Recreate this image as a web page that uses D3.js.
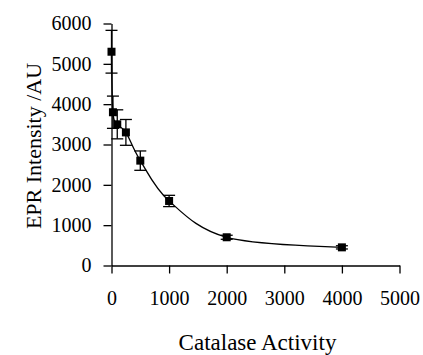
<!DOCTYPE html>
<html>
<head>
<meta charset="utf-8">
<script src="https://cdn.jsdelivr.net/npm/d3@7"></script>
<style>
  body { margin: 0; background: #fff; }
  svg { display: block; }
  .axis text { font-family: "Liberation Serif", serif; font-size: 20px; fill: #000; }
  .axis path, .axis line { stroke: #000; stroke-width: 1.3px; }
</style>
</head>
<body>
<div id="chart"></div>
<script>
// catalase activity vs EPR intensity
const activity = [0, 25, 100, 250, 500, 1000, 2000, 4000];
const intensity = [5300, 3800, 3500, 3300, 2600, 1600, 700, 450];
const errors = [530, 400, 360, 320, 240, 140, 50, 40];
const xTicks = [0, 1000, 2000, 3000, 4000, 5000];
const yTicks = [0, 1000, 2000, 3000, 4000, 5000, 6000];

const width = 423;
const height = 355;
const margin = { left: 111.5, top: 23.5, right: 23.5, bottom: 89.5 };

const svg = d3.select("#chart")
    .append("svg")
    .attr("width", width)
    .attr("height", height);

const x = d3.scaleLinear()
    .domain([0, 5000])
    .range([margin.left, width - margin.right]);

const y = d3.scaleLinear()
    .domain([0, 6000])
    .range([height - margin.bottom, margin.top]);

const data = activity.map((a, i) => ({ x: a, y: intensity[i], err: errors[i] }));

// axes
svg.append("g")
    .attr("class", "axis")
    .attr("transform", `translate(0,${y(0)})`)
    .call(d3.axisBottom(x).tickValues(xTicks).tickSize(8).tickSizeOuter(0).tickPadding(17).tickFormat(d3.format("d")));

svg.append("g")
    .attr("class", "axis")
    .attr("transform", `translate(${x(0)},0)`)
    .call(d3.axisLeft(y).tickValues(yTicks).tickSize(8).tickSizeOuter(0).tickPadding(12).tickFormat(d3.format("d")));

// smoothed line
const line = d3.line()
    .x(d => x(d.x))
    .y(d => y(d.y))
    .curve(d3.curveCardinal.tension(0));

svg.append("path")
    .datum(data)
    .attr("d", line)
    .attr("fill", "none")
    .attr("stroke", "#000")
    .attr("stroke-width", 1.3);

// error bars
const capW = 6;
const eb = svg.selectAll(".err")
    .data(data)
    .join("g")
        .attr("class", "err")
        .attr("stroke", "#000")
        .attr("stroke-width", 1.3);

eb.append("line")
    .attr("x1", d => x(d.x))
    .attr("x2", d => x(d.x))
    .attr("y1", d => y(d.y + d.err))
    .attr("y2", d => y(d.y - d.err));

eb.append("line")
    .attr("x1", d => x(d.x) - capW)
    .attr("x2", d => x(d.x) + capW)
    .attr("y1", d => y(d.y + d.err))
    .attr("y2", d => y(d.y + d.err));

eb.append("line")
    .attr("x1", d => x(d.x) - capW)
    .attr("x2", d => x(d.x) + capW)
    .attr("y1", d => y(d.y - d.err))
    .attr("y2", d => y(d.y - d.err));

// markers
const s = 8;
svg.selectAll(".pt")
    .data(data)
    .join("rect")
        .attr("class", "pt")
        .attr("x", d => x(d.x) - s / 2)
        .attr("y", d => y(d.y) - s / 2)
        .attr("width", s)
        .attr("height", s)
        .attr("fill", "#000");

// axis titles
svg.append("text")
    .attr("x", (x(0) + x(5000)) / 2 + 2)
    .attr("y", 350)
    .attr("text-anchor", "middle")
    .style("font-family", "Liberation Serif, serif")
    .style("font-size", "23px")
    .text("Catalase Activity");

svg.append("text")
    .attr("transform", "translate(41,146) rotate(-90)")
    .attr("text-anchor", "middle")
    .style("font-family", "Liberation Serif, serif")
    .style("font-size", "22px")
    .text("EPR Intensity /AU");
</script>
</body>
</html>
